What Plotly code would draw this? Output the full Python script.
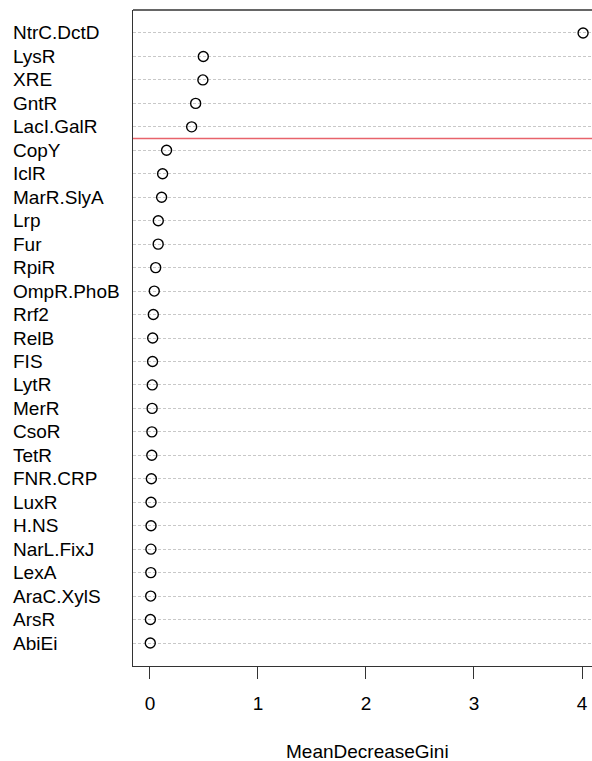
import plotly.graph_objects as go

labels = ["NtrC.DctD", "LysR", "XRE", "GntR", "LacI.GalR", "CopY", "IclR", "MarR.SlyA",
          "Lrp", "Fur", "RpiR", "OmpR.PhoB", "Rrf2", "RelB", "FIS", "LytR", "MerR",
          "CsoR", "TetR", "FNR.CRP", "LuxR", "H.NS", "NarL.FixJ", "LexA", "AraC.XylS",
          "ArsR", "AbiEi"]
gini = [4.01, 0.494, 0.490, 0.423, 0.386, 0.154, 0.117, 0.108,
        0.077, 0.076, 0.053, 0.040, 0.031, 0.025, 0.024, 0.021, 0.020,
        0.018, 0.017, 0.013, 0.010, 0.010, 0.009, 0.008, 0.007,
        0.004, 0.003]
x_ticks = [0, 1, 2, 3, 4]
n_top = 5  # red threshold line drawn below the top 5 variables

n = len(labels)
ypos = [n - 1 - i for i in range(n)]
FONT = "Liberation Sans, Arial, sans-serif"

fig = go.Figure()
fig.add_trace(go.Scatter(
    x=gini, y=ypos, mode="markers",
    marker=dict(symbol="circle-open", size=10, color="black", line=dict(width=1.4, color="black")),
    showlegend=False, hoverinfo="text", text=labels, cliponaxis=False,
))

for lab, y in zip(labels, ypos):
    fig.add_annotation(x=-0.2665, xref="paper", y=y, yref="y", text=lab, showarrow=False,
                       xanchor="left", yanchor="middle",
                       font=dict(family=FONT, size=19, color="black"))

thr = n - n_top - 0.5
fig.add_shape(type="line", xref="paper", x0=0, x1=1, yref="y", y0=thr, y1=thr,
              line=dict(color="#E8636B", width=1.6))
# top border
fig.add_shape(type="line", xref="paper", x0=0, x1=1, yref="paper", y0=1, y1=1,
              line=dict(color="#333333", width=1.3))

fig.add_annotation(x=0.5 * (-0.157 + 4.18), xref="x", y=-0.13, yref="paper",
                   text="MeanDecreaseGini", showarrow=False, yanchor="middle",
                   font=dict(family=FONT, size=19, color="black"))

fig.update_layout(
    width=592, height=761,
    margin=dict(l=133, r=0, t=10, b=95),
    paper_bgcolor="white", plot_bgcolor="white",
    font=dict(family=FONT, size=19, color="black"),
    xaxis=dict(range=[-0.157, (592 - 150) / 108.0], tickvals=x_ticks, ticktext=[str(t) for t in x_ticks],
               ticks="outside", ticklen=12, tickwidth=1.3, tickcolor="#333333",
               showgrid=False, zeroline=False, showline=True, linecolor="#333333", linewidth=1.3,
               tickfont=dict(family=FONT, size=19, color="black"), ticklabelstandoff=8),
    yaxis=dict(range=[-0.98, n - 1 + 0.98], tickvals=ypos, showticklabels=False,
               showgrid=True, gridcolor="#c8c8c8", griddash="2.5px,2.5px", gridwidth=1,
               zeroline=False, showline=True, linecolor="#333333", linewidth=1.3, ticks=""),
)

fig.write_html("out.html", config={"displayModeBar": False},
               post_script="document.body.style.margin='0';document.body.style.overflow='hidden';")
